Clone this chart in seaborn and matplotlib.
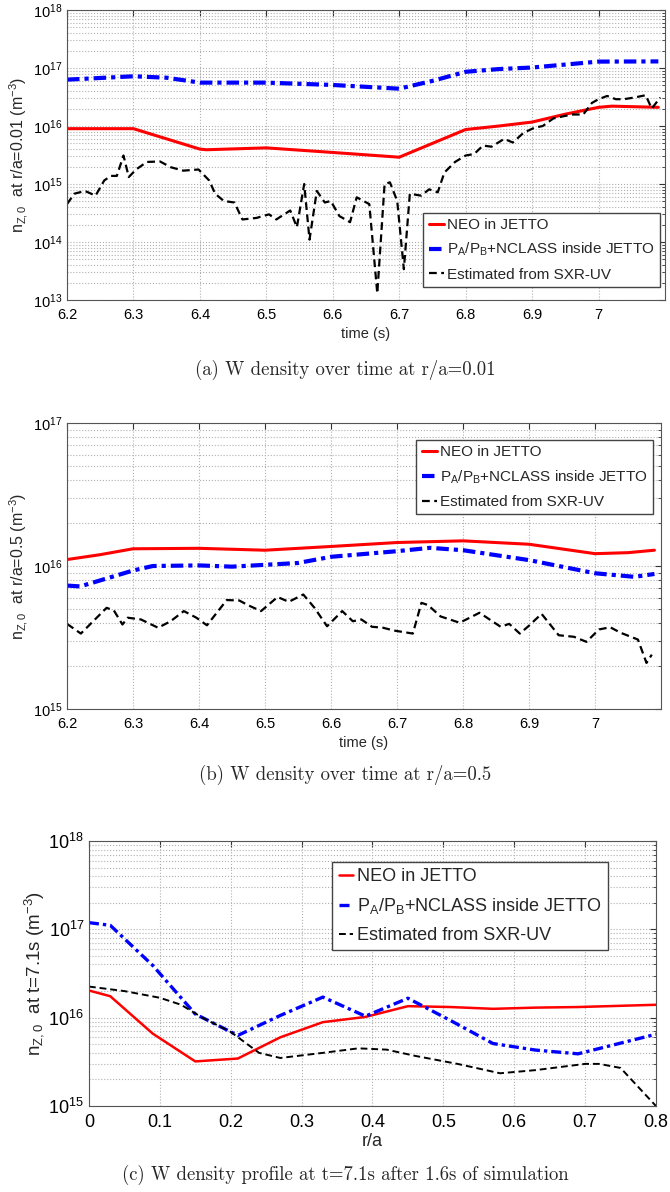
import numpy as np
import pandas as pd
import matplotlib
matplotlib.use("Agg")
import matplotlib.pyplot as plt
import matplotlib.ticker as mticker
import seaborn as sns

## data (log densities kept as plain values)

# (a) r/a = 0.01, over time
t_neo_a = [6.2, 6.3, 6.4, 6.41, 6.5, 6.6, 6.7, 6.8, 6.85, 6.9, 6.95, 7.0, 7.02, 7.09]
n_neo_a = [9.0e15, 9.0e15, 4.0e15, 3.9e15, 4.2e15, 3.5e15, 2.9e15, 8.7e15, 1.0e16,
           1.17e16, 1.6e16, 2.1e16, 2.2e16, 2.1e16]
t_nc_a = [6.2, 6.3, 6.35, 6.4, 6.5, 6.6, 6.7, 6.75, 6.8, 6.85, 6.9, 7.0, 7.09]
n_nc_a = [6.3e16, 7.2e16, 6.8e16, 5.6e16, 5.6e16, 5.1e16, 4.4e16, 6.0e16, 8.6e16,
          9.6e16, 1.02e17, 1.29e17, 1.3e17]
t_sxr_a = [6.2, 6.211, 6.227, 6.243, 6.256, 6.266, 6.275, 6.285, 6.293, 6.304, 6.32,
           6.34, 6.356, 6.375, 6.398, 6.414, 6.423, 6.436, 6.452, 6.464, 6.485, 6.504,
           6.515, 6.536, 6.546, 6.557, 6.565, 6.576, 6.588, 6.597, 6.61, 6.626, 6.636,
           6.655, 6.667, 6.678, 6.686, 6.697, 6.707, 6.716, 6.733, 6.745, 6.758, 6.768,
           6.784, 6.8, 6.813, 6.826, 6.839, 6.858, 6.871, 6.887, 6.903, 6.916, 6.932,
           6.948, 6.961, 6.977, 6.99, 7.0, 7.013, 7.026, 7.038, 7.054, 7.071, 7.08, 7.093]
n_sxr_a = [4.5e14, 6.8e14, 7.6e14, 6.3e14, 1.15e15, 1.38e15, 1.38e15, 3.1e15, 1.32e15,
           1.78e15, 2.4e15, 2.45e15, 1.95e15, 1.7e15, 1.78e15, 1.15e15, 6.8e14, 5.1e14,
           4.8e14, 2.45e14, 2.6e14, 3.0e14, 2.45e14, 3.5e14, 1.8e14, 1.0e15, 1.1e14,
           7.6e14, 4.8e14, 5.1e14, 2.8e14, 2.2e14, 5.9e14, 4.5e14, 1.3e13, 1.0e15,
           1.07e15, 5.1e14, 3.4e13, 6.8e14, 6.3e14, 8.1e14, 7.2e14, 1.58e15, 2.4e15,
           3.1e15, 3.3e15, 4.6e15, 4.4e15, 6.0e15, 5.2e15, 7.6e15, 9.3e15, 1.0e16,
           1.35e16, 1.48e16, 1.58e16, 1.58e16, 2.5e16, 2.9e16, 3.3e16, 2.9e16, 2.9e16,
           3.1e16, 3.4e16, 2.0e16, 3.1e16]

# (b) r/a = 0.5, over time
t_neo_b = [6.2, 6.25, 6.3, 6.4, 6.5, 6.6, 6.7, 6.8, 6.9, 7.0, 7.05, 7.09]
n_neo_b = [1.11e16, 1.2e16, 1.32e16, 1.33e16, 1.29e16, 1.37e16, 1.46e16, 1.5e16,
           1.42e16, 1.22e16, 1.24e16, 1.29e16]
t_nc_b = [6.2, 6.22, 6.3, 6.33, 6.4, 6.45, 6.55, 6.6, 6.7, 6.75, 6.8, 6.9, 7.0, 7.06, 7.09]
n_nc_b = [7.3e15, 7.2e15, 9.3e15, 1.0e16, 1.01e16, 9.9e15, 1.05e16, 1.16e16, 1.27e16,
          1.34e16, 1.29e16, 1.1e16, 8.9e15, 8.4e15, 8.8e15]
t_sxr_b = [6.2, 6.221, 6.26, 6.271, 6.284, 6.292, 6.312, 6.338, 6.357, 6.377, 6.396,
           6.412, 6.442, 6.461, 6.474, 6.494, 6.519, 6.536, 6.558, 6.575, 6.594, 6.617,
           6.633, 6.646, 6.662, 6.679, 6.695, 6.724, 6.737, 6.747, 6.766, 6.795, 6.825,
           6.857, 6.87, 6.886, 6.899, 6.919, 6.945, 6.968, 6.987, 7.006, 7.023, 7.039,
           7.065, 7.078, 7.086]
n_sxr_b = [3.94e15, 3.37e15, 5.1e15, 4.89e15, 3.9e15, 4.35e15, 4.23e15, 3.7e15,
           4.11e15, 4.84e15, 4.35e15, 3.85e15, 5.78e15, 5.74e15, 5.33e15, 4.84e15,
           6.07e15, 5.62e15, 6.32e15, 5.1e15, 3.79e15, 4.84e15, 4.11e15, 4.23e15,
           3.76e15, 3.7e15, 3.54e15, 3.37e15, 5.53e15, 5.33e15, 4.44e15, 4.01e15,
           4.71e15, 3.76e15, 3.94e15, 3.37e15, 3.79e15, 4.63e15, 3.28e15, 3.2e15,
           2.95e15, 3.6e15, 3.73e15, 3.41e15, 3.06e15, 2.1e15, 2.4e15]

# (c) profile at t = 7.1 s
ra_neo_c = [0.0, 0.03, 0.09, 0.15, 0.21, 0.27, 0.33, 0.39, 0.45, 0.51, 0.57, 0.63, 0.69, 0.8]
n_neo_c = [2.03e16, 1.75e16, 6.6e15, 3.2e15, 3.45e15, 6.0e15, 8.9e15, 1.02e16,
           1.35e16, 1.32e16, 1.26e16, 1.3e16, 1.32e16, 1.4e16]
ra_nc_c = [0.0, 0.03, 0.09, 0.15, 0.21, 0.27, 0.33, 0.39, 0.45, 0.51, 0.57, 0.63, 0.69, 0.8]
n_nc_c = [1.19e17, 1.11e17, 3.9e16, 1.1e16, 6.3e15, 1.06e16, 1.71e16, 1.04e16,
          1.66e16, 9.3e15, 5.1e15, 4.3e15, 3.9e15, 6.5e15]
ra_sxr_c = [0.0, 0.05, 0.1, 0.13, 0.16, 0.2, 0.24, 0.27, 0.33, 0.38, 0.42, 0.46,
            0.52, 0.58, 0.63, 0.7, 0.72, 0.75, 0.8]
n_sxr_c = [2.25e16, 2.0e16, 1.68e16, 1.4e16, 1.0e16, 6.9e15, 4.0e15, 3.5e15, 4.0e15,
           4.5e15, 4.35e15, 3.7e15, 3.0e15, 2.35e15, 2.55e15, 3.0e15, 3.0e15, 2.7e15, 1.0e15]

lab_neo = "NEO in JETTO"
lab_nc = r"$\mathregular{P_A/P_B}$+NCLASS inside JETTO"
lab_sxr = "Estimated from SXR-UV"

sns.set_style("white")
plt.rcParams['font.family'] = ['Liberation Sans', 'DejaVu Sans']
plt.rcParams['mathtext.fontset'] = 'custom'
plt.rcParams['mathtext.rm'] = 'Liberation Sans'
plt.rcParams['mathtext.it'] = 'Liberation Sans:italic'
plt.rcParams['xtick.direction'] = 'in'
plt.rcParams['ytick.direction'] = 'in'

fig = plt.figure(figsize=(6.7, 11.92), dpi=100)
ax_a = fig.add_axes([0.100, 0.7483, 0.8925, 0.2433])
ax_b = fig.add_axes([0.100, 0.4052, 0.8866, 0.2399])
ax_c = fig.add_axes([0.1328, 0.0721, 0.8463, 0.2224])


def draw(ax, xn, yn, xc, yc, xs, ys, lw):
    sns.lineplot(x=xn, y=yn, ax=ax, color='#ff0000', lw=lw[0], label=lab_neo, sort=False)
    sns.lineplot(x=xc, y=yc, ax=ax, color='#0000ff', lw=lw[1], label=lab_nc, sort=False,
                 linestyle=(0, (3, 1.2, 1, 1.2)))
    sns.lineplot(x=xs, y=ys, ax=ax, color='black', lw=lw[2], label=lab_sxr, sort=False,
                 linestyle=(0, (3.5, 2)))
    ax.set_yscale('log')
    ax.yaxis.set_major_locator(mticker.LogLocator(base=10, numticks=10))
    ax.yaxis.set_minor_locator(mticker.LogLocator(base=10, subs=np.arange(2, 10), numticks=10))
    ax.yaxis.set_minor_formatter(mticker.NullFormatter())
    ax.grid(True, which='major', axis='both', color='#b0b0b0', linestyle=':', lw=0.8)
    ax.grid(True, which='minor', axis='y', color='#b0b0b0', linestyle=':', lw=0.8)
    ax.tick_params(which='both', top=True, right=True, colors='#333333', labelcolor='black')
    ax.tick_params(which='major', length=4)
    ax.tick_params(which='minor', length=2)
    ax.tick_params(axis='x', pad=6)
    for s in ax.spines.values():
        s.set_color('#555555')
        s.set_linewidth(0.8)


# (a)
draw(ax_a, t_neo_a, n_neo_a, t_nc_a, n_nc_a, t_sxr_a, n_sxr_a, (2.2, 3.0, 1.6))
ax_a.set_xlim(6.2, 7.1)
ax_a.set_ylim(1e13, 1e18)
ax_a.set_xticks([6.2, 6.3, 6.4, 6.5, 6.6, 6.7, 6.8, 6.9, 7.0])
ax_a.set_xticklabels(['6.2', '6.3', '6.4', '6.5', '6.6', '6.7', '6.8', '6.9', '7'])
ax_a.tick_params(labelsize=10.5)
ax_a.set_xlabel("time (s)", fontsize=10.5, labelpad=3)
ax_a.set_ylabel(r"$\mathregular{n_{Z,0}}$  at r/a=0.01 (m$^{-3}$)", fontsize=11.5, labelpad=2)
ax_a.legend(loc='lower right', bbox_to_anchor=(0.992, 0.045), borderaxespad=0,
            fontsize=11, handlelength=1.0, handletextpad=0.2, fancybox=False,
            edgecolor='#444444', framealpha=1, borderpad=0.35, labelspacing=0.6)

# (b)
draw(ax_b, t_neo_b, n_neo_b, t_nc_b, n_nc_b, t_sxr_b, n_sxr_b, (2.2, 3.0, 1.6))
ax_b.set_xlim(6.2, 7.1)
ax_b.set_ylim(1e15, 1e17)
ax_b.set_xticks([6.2, 6.3, 6.4, 6.5, 6.6, 6.7, 6.8, 6.9, 7.0])
ax_b.set_xticklabels(['6.2', '6.3', '6.4', '6.5', '6.6', '6.7', '6.8', '6.9', '7'])
ax_b.tick_params(labelsize=10.5)
ax_b.set_xlabel("time (s)", fontsize=10.5, labelpad=3)
ax_b.set_ylabel(r"$\mathregular{n_{Z,0}}$  at r/a=0.5 (m$^{-3}$)", fontsize=11.5, labelpad=2)
ax_b.legend(loc='upper right', bbox_to_anchor=(0.9865, 0.9406), borderaxespad=0,
            fontsize=11, handlelength=1.0, handletextpad=0.2, fancybox=False,
            edgecolor='#444444', framealpha=1, borderpad=0.35, labelspacing=0.6)

# (c)
draw(ax_c, ra_neo_c, n_neo_c, ra_nc_c, n_nc_c, ra_sxr_c, n_sxr_c, (1.8, 2.4, 1.4))
ax_c.set_xlim(0, 0.8)
ax_c.set_ylim(1e15, 1e18)
ax_c.set_xticks([0, 0.1, 0.2, 0.3, 0.4, 0.5, 0.6, 0.7, 0.8])
ax_c.set_xticklabels(['0', '0.1', '0.2', '0.3', '0.4', '0.5', '0.6', '0.7', '0.8'])
ax_c.tick_params(labelsize=13)
ax_c.set_xlabel("r/a", fontsize=13, labelpad=1)
ax_c.set_ylabel(r"$\mathregular{n_{Z,0}}$  at t=7.1s (m$^{-3}$)", fontsize=13.5, labelpad=2)
ax_c.legend(loc='upper right', bbox_to_anchor=(0.915, 0.921), borderaxespad=0,
            fontsize=13, handlelength=0.8, handletextpad=0.2, fancybox=False,
            edgecolor='#444444', framealpha=1, borderpad=0.35, labelspacing=0.6)

## captions
fig.text(0.515, 0.690, "(a) W density over time at r/a=0.01", ha='center', va='center',
         family='cmr10', fontsize=13.5)
fig.text(0.515, 0.350, "(b) W density over time at r/a=0.5", ha='center', va='center',
         family='cmr10', fontsize=13.5)
fig.text(0.515, 0.0143, "(c) W density profile at t=7.1s after 1.6s of simulation",
         ha='center', va='center', family='cmr10', fontsize=13.5)

plt.savefig('out.png', dpi=100)
